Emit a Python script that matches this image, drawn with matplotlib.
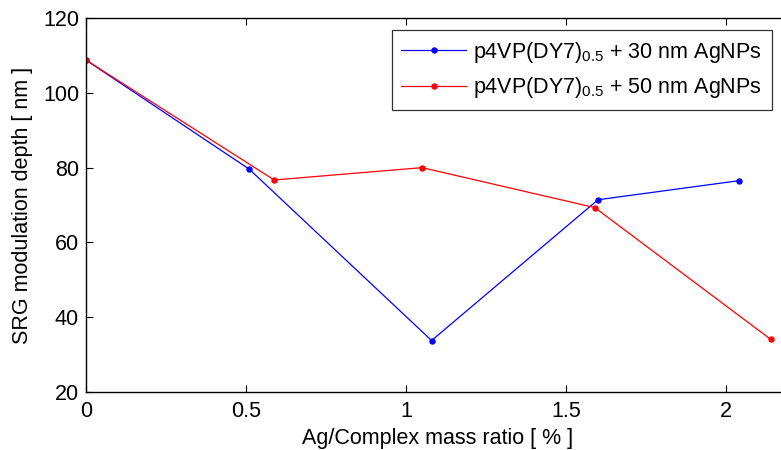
import matplotlib
matplotlib.use('Agg')
import matplotlib.pyplot as plt

plt.rcParams['font.family'] = ['Liberation Sans', 'DejaVu Sans']
plt.rcParams['mathtext.fontset'] = 'custom'
plt.rcParams['mathtext.rm'] = 'Liberation Sans'

# mass ratio (%) vs SRG depth (nm)
ratio_30 = [0, 0.51, 1.08, 1.60, 2.04]
depth_30 = [108.8, 79.6, 33.7, 71.4, 76.5]
ratio_50 = [0, 0.588, 1.05, 1.59, 2.14]
depth_50 = [108.8, 76.7, 80.0, 69.3, 34.0]

labels = [r'p4VP(DY7)$_{\mathregular{0.5}}$ + 30 nm AgNPs',
          r'p4VP(DY7)$_{\mathregular{0.5}}$ + 50 nm AgNPs']
xticks = [0, 0.5, 1, 1.5, 2]
yticks = [20, 40, 60, 80, 100, 120]

fig = plt.figure(figsize=(7.81, 4.5), dpi=100)
ax = fig.add_axes([0.1101, 0.1296, 0.9014, 0.8298])

ax.plot(ratio_30, depth_30, color='blue', lw=0.9, marker='o', ms=3.6, label=labels[0])
ax.plot(ratio_50, depth_50, color='red', lw=0.9, marker='o', ms=3.6, label=labels[1])

ax.set_xlim(0, 2.2)
ax.set_ylim(20, 120)
ax.set_xticks(xticks)
ax.set_xticklabels(['0', '0.5', '1', '1.5', '2'])
ax.set_yticks(yticks)
ax.tick_params(direction='in', top=True, right=True, length=5, width=0.8,
               labelsize=15.5)
ax.tick_params(axis='x', pad=7)
ax.tick_params(axis='y', pad=5)
for s in ax.spines.values():
    s.set_linewidth(1.0)

ax.set_xlabel('Ag/Complex mass ratio [ % ]', fontsize=15.5, labelpad=4)
ax.set_ylabel('SRG modulation depth [ nm ]', fontsize=15.5, labelpad=7)

leg = ax.legend(loc='upper right', bbox_to_anchor=(772 / 781, 1 - 30 / 450),
                bbox_transform=fig.transFigure, fontsize=15.5, frameon=True,
                fancybox=False, edgecolor='black', handlelength=3.0,
                borderpad=0.45, labelspacing=0.5, handletextpad=0.35,
                borderaxespad=0)
leg.get_frame().set_linewidth(0.9)

fig.savefig('out.png', dpi=100)
